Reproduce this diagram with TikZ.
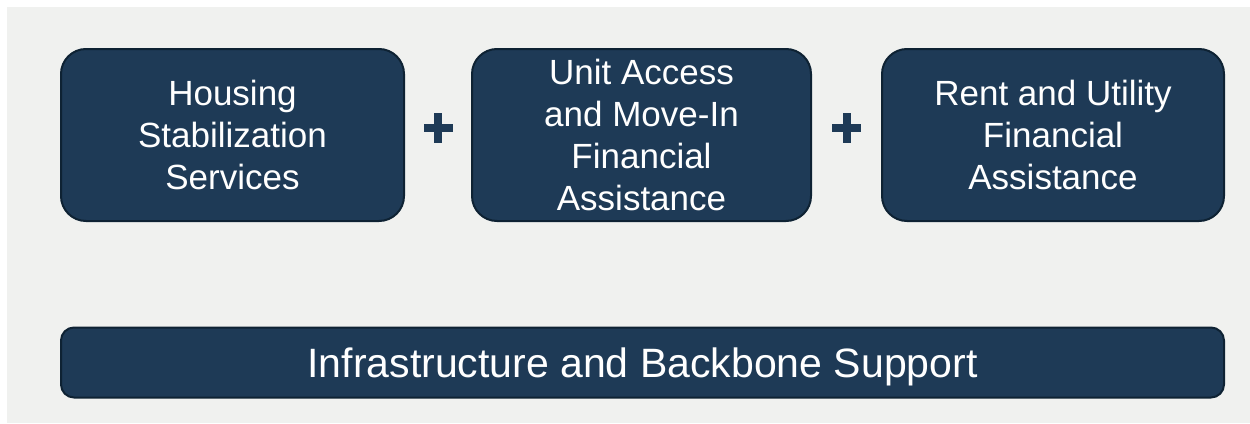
\documentclass[tikz,border=0pt]{standalone}
\usepackage{fontspec}
\setmainfont{Liberation Sans}
\usetikzlibrary{calc}
\definecolor{bggray}{HTML}{F0F1EF}
\definecolor{boxfill}{HTML}{1E3A56}
\definecolor{boxline}{HTML}{0E2233}
\tikzset{
  topbox/.style={draw=boxline, line width=2pt, fill=boxfill, rounded corners=25pt,
    minimum height=172pt, text=white, align=center,
    font=\fontsize{35pt}{41.8pt}\selectfont},
  basebox/.style={draw=boxline, line width=2pt, fill=boxfill, rounded corners=13pt,
    minimum height=70pt, text=white, align=center, text depth=0pt,
    font=\fontsize{41pt}{46pt}\selectfont},
  plusbar/.style={fill=boxfill}
}
\begin{document}
\begin{tikzpicture}[x=1pt,y=-1pt]
\useasboundingbox (0,0) rectangle (1250,423);
\fill[white] (0,0) rectangle (1250,423);
\fill[bggray] (7,7) rectangle (1250,423);
\node[topbox, minimum width=343pt] (hss) at (232.5,135) {Housing\\Stabilization\\Services};
\node[topbox, minimum width=339pt] (ua) at (641.5,135) {Unit Access\\and Move-In\\Financial\\Assistance};
\node[topbox, minimum width=342pt] (ru) at (1053,135) {Rent and Utility\\Financial\\Assistance};
\node[basebox, minimum width=1163pt] (ibs) at (642.5,362.5) {Infrastructure and Backbone Support};
\coordinate (p1) at ($(hss.east)!0.5!(ua.west)+(0,-7)$);
\coordinate (p2) at ($(ua.east)!0.5!(ru.west)+(0,-7)$);
\foreach \p in {p1,p2}{
  \fill[plusbar] ($(\p)+(-14.5,-4)$) rectangle ($(\p)+(14.5,4)$);
  \fill[plusbar] ($(\p)+(-4,-15)$) rectangle ($(\p)+(4,15)$);
}
\end{tikzpicture}
\end{document}
